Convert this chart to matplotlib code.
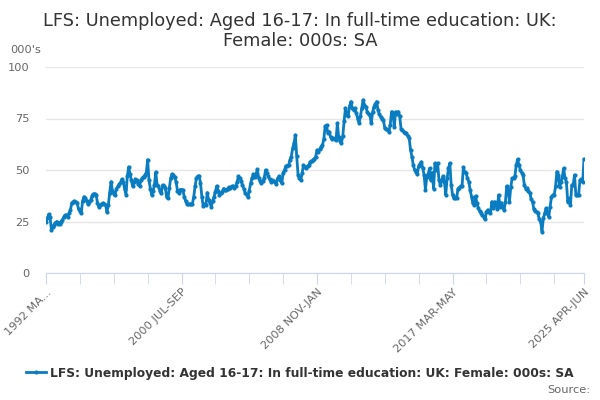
import numpy as np
import matplotlib
matplotlib.use("Agg")
import matplotlib.pyplot as plt
from matplotlib.ticker import FixedLocator

# rolling three-month periods, 1992 MAR-MAY .. 2025 APR-JUN
start_year = 1992
start_month = 3
months = ["JAN", "FEB", "MAR", "APR", "MAY", "JUN",
          "JUL", "AUG", "SEP", "OCT", "NOV", "DEC"]

# thousands
values = [
    25, 26.5, 28.5, 27, 21, 22.5, 23.5, 24.5, 25, 24, 24, 25,
    25.5, 27, 28, 28, 27, 29, 30.5, 34, 34.5, 35, 34.5, 34,
    31, 30, 29, 35, 37, 36.5, 35, 33.5, 34.5, 35.5, 37.5, 38.3,
    38.5, 38, 34, 32, 33, 33.5, 34, 33.5, 33, 29.5, 33, 39,
    44.3, 40, 38.5, 38, 41, 42, 43, 44, 45.5, 44, 41, 38,
    47, 51.5, 48, 45, 42, 44, 45.5, 45, 43, 42.2, 45, 46,
    46.8, 47.5, 48.5, 55, 45, 41, 38, 40, 42.5, 49, 42.7, 42,
    40, 38.8, 42.7, 42, 41.5, 37, 36.4, 41.2, 46, 48, 47.6, 46.5,
    44.3, 40, 38.8, 40.5, 40.5, 40.3, 37, 35, 33.5, 33.5, 33.5, 33.5,
    33.5, 37, 42, 46, 47, 47, 43.8, 37, 32.5, 33.5, 33, 39,
    35.4, 34, 32.2, 35, 37, 39.5, 42.2, 40, 38, 39, 39.5, 41,
    40.5, 40.3, 41, 41.6, 41.5, 42, 42, 41.5, 42.2, 44, 47, 46,
    44.5, 42.7, 41, 38.7, 38, 37, 40, 43.5, 46, 48, 46.4, 48,
    50.3, 46, 44.5, 43.5, 44.5, 46, 50, 48.5, 47, 45.5, 44.3, 45,
    44.5, 44, 43.2, 46, 47, 45, 43.5, 48.7, 50, 52, 52, 52.4,
    54.8, 56.5, 60.5, 63, 67, 56.8, 47.6, 46, 45, 48.4, 52.4, 51.5,
    50.8, 52, 52.4, 54, 54.5, 54.8, 55.5, 56.5, 59.7, 58.9, 60, 61.3,
    62, 65, 71.3, 71.8, 67.8, 68.6, 66, 64.9, 65.3, 65, 64.5, 72.7,
    65.9, 64, 63, 66.5, 74, 80, 76.7, 76.2, 81, 83.2, 80, 79,
    80, 77.5, 75, 73, 76, 80, 84, 81.5, 80.8, 78.3, 77, 76.7,
    72.7, 78, 80.8, 82, 83.2, 79, 77, 75.9, 75, 74.3, 70.2, 69.8,
    69.4, 68.6, 72, 78.3, 77.5, 71, 78.3, 77, 78.3, 76, 70, 69.4,
    68.6, 68.2, 67.8, 66.5, 65.5, 59.7, 56.5, 52.4, 50, 49.2, 48, 52,
    53, 54, 51, 47.6, 40.3, 46.8, 48, 50.8, 45, 48.7, 41, 53.3,
    50, 53.3, 45, 42.7, 45, 47, 44.3, 37.9, 46, 50.8, 53.3, 42.7,
    38, 36.2, 36.5, 36.2, 41, 41.5, 42.2, 42, 51.3, 49, 48.4, 46,
    44.3, 40.3, 37, 33.8, 33, 37.4, 33.8, 31.5, 30, 29, 28, 27.3,
    26, 29.8, 30.6, 29.5, 29, 34.6, 31.4, 34.6, 33, 30.9, 37.9, 32.2,
    34.1, 32, 30.6, 34.6, 42.2, 40.3, 34.6, 41.9, 46, 46, 47, 52.4,
    55.2, 52.4, 50, 48.7, 47.6, 42.7, 41, 41.2, 40, 39, 35.8, 34.6,
    30.9, 30, 29.8, 29, 26, 25, 20.1, 26.5, 29, 31.4, 29, 27.3,
    32.2, 37, 37.9, 37.9, 42, 49.2, 47.6, 41.6, 44.3, 46.8, 50.8, 46,
    44.3, 34.6, 36.2, 33, 42.7, 42.7, 47.6, 37.9, 37.9, 37.9, 45, 45.4,
    44, 55.2,
]

labels = []
for k in range(len(values)):
    m = start_month - 1 + k
    y = start_year + m // 12
    labels.append("%d %s-%s" % (y, months[m % 12], months[(m + 2) % 12]))

title = "LFS: Unemployed: Aged 16-17: In full-time education: UK:\nFemale: 000s: SA"
series_name = "LFS: Unemployed: Aged 16-17: In full-time education: UK: Female: 000s: SA"

line_color = "#0a7cc1"
axis_color = "#ccd6eb"
grid_color = "#e6e6e6"
text_color = "#666666"

fig = plt.figure(figsize=(6, 4), dpi=100)
ax = fig.add_axes([46 / 600, 1 - 273 / 400, 538 / 600, 206 / 400])

x = np.arange(len(values))
ax.plot(x, values, color=line_color, lw=2, marker="o", ms=3,
        markeredgewidth=0, label=series_name)

ax.set_xlim(0, len(values) - 1)
ax.set_ylim(0, 100)
ax.set_yticks([0, 25, 50, 75, 100])
ax.yaxis.grid(True, color=grid_color, lw=1)
ax.set_axisbelow(True)

major = [0, 100, 200, 300, len(values) - 1]
ax.set_xticks(major)
tick_text = [labels[i] for i in major]
tick_text[0] = "1992 MA..."
ax.set_xticklabels(tick_text, rotation=45, ha="right", rotation_mode="anchor")
ax.xaxis.set_minor_locator(FixedLocator(list(range(0, len(values), 25))))

for s in ["top", "right", "left"]:
    ax.spines[s].set_visible(False)
ax.spines["bottom"].set_color(axis_color)
ax.tick_params(axis="x", which="both", length=8, color=axis_color,
               labelsize=8.2, labelcolor=text_color, pad=2)
ax.tick_params(axis="y", length=0, labelsize=8.2, labelcolor=text_color, pad=12)

fig.text(0.5, 1 - 31 / 400, title, ha="center", va="center",
         fontsize=12.8, color="#333333", linespacing=1.2)
fig.text(10 / 600, 1 - 50 / 400, "000's", ha="left", va="center",
         fontsize=8.2, color=text_color)

leg = fig.legend(loc="center", bbox_to_anchor=(0.5, 1 - 373 / 400),
                 frameon=False, handlelength=1.6, handletextpad=0.4,
                 prop={"weight": "bold", "size": 8.8})
for t in leg.get_texts():
    t.set_color("#333333")
fig.text(590 / 600, 1 - 390 / 400, "Source:", ha="right", va="center",
         fontsize=8.2, color=text_color)

fig.savefig("out.png", dpi=100)
